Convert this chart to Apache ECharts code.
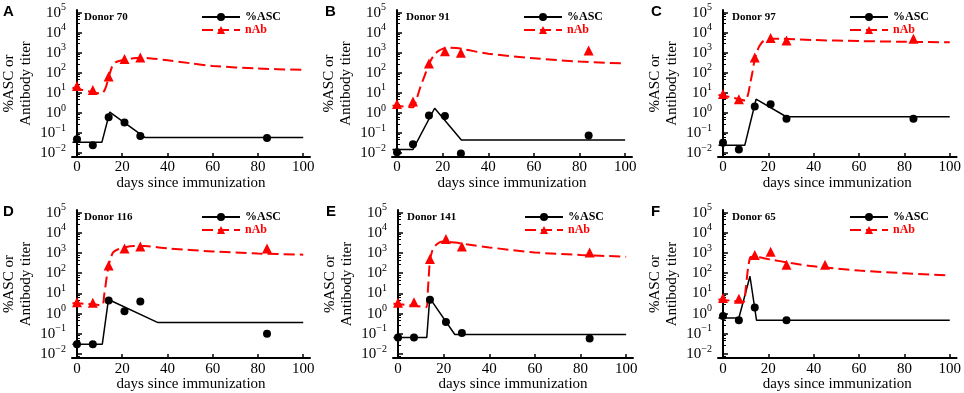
<!DOCTYPE html>
<html>
<head>
<meta charset="utf-8">
<script src="https://cdn.jsdelivr.net/npm/echarts@6.0.0/dist/echarts.min.js"></script>
<style>
  html, body { margin: 0; padding: 0; background: #fff; }
  #chart { width: 964px; height: 393px; }
</style>
</head>
<body>
<div id="chart"></div>
<script>
const ascDays = [0, 7, 14, 21, 28, 84];
const ascDaysF = [0, 7, 14, 28];
const nabDaysA = [0, 7, 14, 21, 28];
const nabDays = [0, 7, 14, 21, 28, 84];
const nabDaysF = [0, 7, 14, 21, 28, 45];

const asc70 = [0.048, 0.024, 0.6, 0.33, 0.07, 0.056];
const nab70 = [22, 14, 66, 480, 575];
const asc91 = [0.011, 0.027, 0.74, 0.69, 0.0094, 0.074];
const nab91 = [2.8, 3.7, 290, 1200, 1000, 1300];
const asc97 = [0.032, 0.015, 2.1, 2.7, 0.51, 0.51];
const nab97 = [8.7, 4.8, 570, 5400, 4100, 5000];
const asc116 = [0.031, 0.031, 4.5, 1.3, 4.0, 0.1];
const nab116 = [3.7, 3.5, 240, 1700, 2100, 1700];
const asc141 = [0.066, 0.066, 4.9, 0.39, 0.11, 0.059];
const nab141 = [3.5, 3.7, 500, 4900, 2100, 1070];
const asc65 = [0.77, 0.47, 2.0, 0.47];
const nab65 = [5.9, 5.5, 800, 1170, 260, 260];

// model curves
const fitAscDays70 = [-2, 11, 14.5, 30, 100];
const fitAsc70 = [0.034, 0.034, 1.1, 0.06, 0.06];
const fitAscDays91 = [-2, 7, 16.5, 28.2, 100];
const fitAsc91 = [0.015, 0.015, 1.7, 0.044, 0.044];
const fitAscDays97 = [-2, 9.6, 14.6, 27.9, 100];
const fitAsc97 = [0.024, 0.024, 4.8, 0.64, 0.64];
const fitAscDays116 = [-2, 11.2, 13.9, 35.8, 100];
const fitAsc116 = [0.031, 0.031, 5, 0.36, 0.36];
const fitAscDays141 = [-2, 12.6, 13.9, 24.9, 100];
const fitAsc141 = [0.066, 0.066, 5.9, 0.093, 0.093];
const fitAscDays65 = [-2, 7, 11.9, 14.8, 100];
const fitAsc65 = [0.61, 0.61, 71, 0.47, 0.47];

const fitNabDays70 = [-2, 5, 10, 11, 12.5, 14, 15.5, 17, 19, 21, 25, 28, 34, 40, 50, 60, 80, 100];
const fitNab70 = [18, 12, 9.5, 9.6, 16, 59, 200, 330, 400, 450, 530, 560, 500, 420, 300, 220, 163, 140];
const fitNabDays91 = [-2, 3, 7, 8, 10, 12, 14, 16, 18, 20, 22, 26, 30, 40, 60, 80, 100];
const fitNab91 = [2.3, 2.1, 1.9, 3, 16, 66, 270, 690, 1200, 1550, 1750, 1700, 1450, 890, 530, 360, 290];
const fitNabDays97 = [-2, 0, 5, 10, 11, 12, 13, 14, 15, 16, 18, 21, 25, 40, 60, 80, 100];
const fitNab97 = [7.8, 7.2, 5.5, 4.1, 8, 29, 110, 470, 1100, 2100, 4000, 5000, 5000, 4300, 3800, 3500, 3300];
const fitNabDays116 = [-2, 5, 11, 12, 13, 14, 15, 16, 18, 21, 25, 30, 40, 60, 80, 100];
const fitNab116 = [3.3, 3, 2.6, 8, 50, 240, 600, 1070, 1500, 1900, 2200, 2200, 1700, 1200, 950, 830];
const fitNabDays141 = [-2, 5, 12.5, 13, 13.5, 14, 15, 16, 18, 20, 25, 30, 40, 60, 80, 100];
const fitNab141 = [3.1, 2.6, 2.1, 10, 77, 420, 1300, 2100, 3300, 3700, 3300, 2700, 1900, 1070, 800, 660];
const fitNabDays65 = [-2, 5, 9, 10, 11, 12, 13, 15, 20, 30, 40, 60, 80, 100];
const fitNab65 = [5, 4.2, 3.7, 17, 160, 610, 660, 640, 500, 320, 220, 135, 100, 77];

const xTicks = [0, 20, 40, 60, 80, 100];
const yTicks = [0.01, 0.1, 1, 10, 100, 1000, 10000, 100000];

const SERIF = 'Liberation Serif';
const pair = (xs, ys) => ys.map((y, i) => [xs[i], y]);

const panels = [
    { letter: 'A', donor: 'Donor 70', left: 70, top: 10, height: 147,
      asc: pair(ascDays, asc70), nab: pair(nabDaysA, nab70),
      fitAsc: pair(fitAscDays70, fitAsc70), fitNab: pair(fitNabDays70, fitNab70) },
    { letter: 'B', donor: 'Donor 91', left: 392, top: 10, height: 147,
      asc: pair(ascDays, asc91), nab: pair(nabDays, nab91),
      fitAsc: pair(fitAscDays91, fitAsc91), fitNab: pair(fitNabDays91, fitNab91) },
    { letter: 'C', donor: 'Donor 97', left: 718, top: 10, height: 147,
      asc: pair(ascDays, asc97), nab: pair(nabDays, nab97),
      fitAsc: pair(fitAscDays97, fitAsc97), fitNab: pair(fitNabDays97, fitNab97) },
    { letter: 'D', donor: 'Donor 116', left: 70, top: 210, height: 150,
      asc: pair(ascDays, asc116), nab: pair(nabDays, nab116),
      fitAsc: pair(fitAscDays116, fitAsc116), fitNab: pair(fitNabDays116, fitNab116) },
    { letter: 'E', donor: 'Donor 141', left: 393, top: 210, height: 150,
      asc: pair(ascDays, asc141), nab: pair(nabDays, nab141),
      fitAsc: pair(fitAscDays141, fitAsc141), fitNab: pair(fitNabDays141, fitNab141) },
    { letter: 'F', donor: 'Donor 65', left: 718, top: 210, height: 150,
      asc: pair(ascDaysF, asc65), nab: pair(nabDaysF, nab65),
      fitAsc: pair(fitAscDays65, fitAsc65), fitNab: pair(fitNabDays65, fitNab65) }
];

const supLabel = v => {
    const e = Math.round(Math.log10(v));
    return '{b|10}{s|' + (e < 0 ? '\u2212' + (-e) : e) + '}';
};

const titles = [];
const legends = [];
const grids = [];
const xAxes = [];
const yAxes = [];
const series = [];

panels.forEach((p, i) => {
    titles.push({
        text: p.letter, left: p.left - 67, top: p.top - 6, padding: 0,
        textStyle: { fontFamily: 'Liberation Sans', fontWeight: 'bold', fontSize: 15, color: '#000' }
    });
    titles.push({
        text: p.donor, left: p.left + 14, top: p.top + 1.5, padding: 0,
        textStyle: { fontFamily: SERIF, fontWeight: 'bold', fontSize: 11, color: '#000' }
    });
    legends.push({
        left: p.left + 131, top: p.top + 1, orient: 'vertical', padding: 0,
        itemGap: 1, itemWidth: 38, itemHeight: 10, selectedMode: false,
        textStyle: { fontFamily: SERIF, fontWeight: 'bold', fontSize: 12, color: '#000', lineHeight: 10 },
        data: [{ name: '%ASC' }, { name: 'nAb', textStyle: { color: '#f00' } }]
    });
    grids.push({ left: p.left, top: p.top, width: 240, height: p.height });
    xAxes.push({
        gridIndex: i, type: 'value', min: -2.2, max: 103,
        name: 'days since immunization', nameLocation: 'middle', nameGap: 18,
        nameTextStyle: { fontFamily: SERIF, fontSize: 15, color: '#000' },
        axisLine: { lineStyle: { color: '#000', width: 2 } },
        axisTick: { inside: true, length: 4, customValues: xTicks, lineStyle: { color: '#000', width: 1.5 } },
        axisLabel: { customValues: xTicks, fontFamily: SERIF, fontSize: 15, color: '#000', margin: 3 },
        splitLine: { show: false }
    });
    yAxes.push({
        gridIndex: i, type: 'log', logBase: 10,
        min: Math.pow(10, -2.2), max: Math.pow(10, 5.13),
        name: '%ASC or\nAntibody titer', nameLocation: 'middle', nameGap: 37,
        nameTextStyle: { fontFamily: SERIF, fontSize: 15, color: '#000', lineHeight: 17 },
        axisLine: { show: true, lineStyle: { color: '#000', width: 2 } },
        axisTick: { inside: true, length: 5, customValues: yTicks, lineStyle: { color: '#000', width: 1.5 } },
        minorTick: { show: true, splitNumber: 5, length: 3, lineStyle: { color: '#000', width: 1 } },
        axisLabel: {
            customValues: yTicks, margin: 6, formatter: supLabel,
            rich: {
                b: { fontFamily: SERIF, fontSize: 15, color: '#000', lineHeight: 20 },
                s: { fontFamily: SERIF, fontSize: 10, color: '#000', lineHeight: 10, verticalAlign: 'top' }
            }
        },
        splitLine: { show: false }
    });
    series.push({
        type: 'line', name: '%ASC', xAxisIndex: i, yAxisIndex: i, data: p.fitAsc,
        symbol: 'circle', showSymbol: false, silent: true,
        lineStyle: { color: '#000', width: 1.5 }, itemStyle: { color: '#000' }
    });
    series.push({
        type: 'line', name: 'nAb', xAxisIndex: i, yAxisIndex: i, data: p.fitNab,
        symbol: 'triangle', showSymbol: false, silent: true, smooth: 0.3,
        lineStyle: { color: '#f00', width: 2, type: [11, 5] }, itemStyle: { color: '#f00' }
    });
    series.push({
        type: 'scatter', name: '%ASC', xAxisIndex: i, yAxisIndex: i, data: p.asc,
        symbol: 'circle', symbolSize: 8, itemStyle: { color: '#000', opacity: 1 }, z: 3
    });
    series.push({
        type: 'scatter', name: 'nAb', xAxisIndex: i, yAxisIndex: i, data: p.nab,
        symbol: 'triangle', symbolSize: 10, itemStyle: { color: '#f00', opacity: 1 }, z: 3
    });
});

const option = {
    backgroundColor: '#fff',
    animation: false,
    title: titles,
    legend: legends,
    grid: grids,
    xAxis: xAxes,
    yAxis: yAxes,
    series: series
};

const myChart = echarts.init(document.getElementById('chart'));
myChart.setOption(option);
</script>
</body>
</html>
